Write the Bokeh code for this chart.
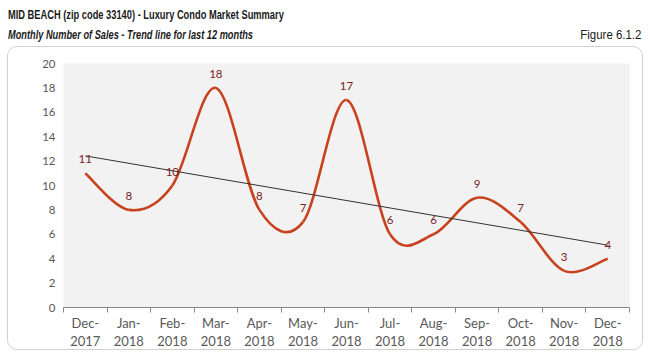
import numpy as np
from bokeh.plotting import figure
from bokeh.layouts import column
from bokeh.models import (ColumnDataSource, LabelSet, FixedTicker, Range1d, Div)
from bokeh.core.properties import value
from bokeh.embed import file_html
from bokeh.resources import INLINE

# ---- data ----
months = ["Dec-\n2017", "Jan-\n2018", "Feb-\n2018", "Mar-\n2018", "Apr-\n2018",
          "May-\n2018", "Jun-\n2018", "Jul-\n2018", "Aug-\n2018", "Sep-\n2018",
          "Oct-\n2018", "Nov-\n2018", "Dec-\n2018"]
sales = [11, 8, 10, 18, 8, 7, 17, 6, 6, 9, 7, 3, 4]
y_ticks = [0, 2, 4, 6, 8, 10, 12, 14, 16, 18, 20]

title = "MID BEACH (zip code 33140) - Luxury Condo Market Summary"
subtitle = "Monthly Number of Sales - Trend line for last 12 months"
fig_label = "Figure 6.1.2"

# ---- heading ----
base = ("position:absolute;white-space:nowrap;font-family:'Liberation Sans',Arial,sans-serif;"
        "color:#1a1a1a;font-size:13px;line-height:14px;")
head = Div(
    text=(
        '<div style="position:relative;width:650px;height:46px;">'
        f'<span style="{base}left:8px;top:8px;font-weight:bold;'
        f'transform:scaleX(0.715);transform-origin:0 50%;">{title}</span>'
        f'<span style="{base}left:8px;top:28px;font-weight:bold;font-style:italic;'
        f'transform:scaleX(0.71);transform-origin:0 50%;">{subtitle}</span>'
        f'<span style="{base}right:9px;top:28px;'
        f'transform:scaleX(0.88);transform-origin:100% 50%;">{fig_label}</span>'
        '</div>'
    ),
    width=650, height=46, margin=(0, 0, 0, 0))

# ---- chart ----
W, H = 634, 302
xs = np.arange(len(sales), dtype=float)
ys = np.array(sales, dtype=float)

p = figure(width=W, height=H, output_backend="svg", toolbar_location=None,
           x_range=Range1d(-0.5, len(sales) - 0.5), y_range=Range1d(0, 20),
           min_border_left=55, min_border_right=15, min_border_top=16,
           min_border_bottom=44, background_fill_color="#f2f2f2",
           border_fill_color="white", outline_line_color=None,
           margin=(0, 0, 0, 7),
           styles={"border": "1px solid #d0d0d0", "border-radius": "10px",
                   "box-sizing": "content-box", "overflow": "hidden"})
p.xgrid.visible = False
p.ygrid.visible = False

# smoothed line (cubic bezier segments, catmull-rom style control points)
n = len(sales)
x0, y0, x1, y1, cx0, cy0, cx1, cy1 = ([] for _ in range(8))
for i in range(n - 1):
    ip = max(i - 1, 0)
    inn = min(i + 2, n - 1)
    x0.append(xs[i]); y0.append(ys[i]); x1.append(xs[i + 1]); y1.append(ys[i + 1])
    cx0.append(xs[i] + (xs[i + 1] - xs[ip]) / 6.0)
    cy0.append(ys[i] + (ys[i + 1] - ys[ip]) / 6.0)
    cx1.append(xs[i + 1] - (xs[inn] - xs[i]) / 6.0)
    cy1.append(ys[i + 1] - (ys[inn] - ys[i]) / 6.0)
p.bezier(x0=x0, y0=y0, x1=x1, y1=y1, cx0=cx0, cy0=cy0, cx1=cx1, cy1=cy1,
         line_color="#c8431d", line_width=2.6)

# linear trend line
slope, intercept = np.polyfit(xs, ys, 1)
p.line([xs[0], xs[-1]], [intercept + slope * xs[0], intercept + slope * xs[-1]],
       line_color="#333333", line_width=1)

# data labels
src = ColumnDataSource(dict(x=xs, y=ys, t=[str(v) for v in sales]))
p.add_layout(LabelSet(x="x", y="y", text="t", source=src, y_offset=14,
                      text_align="center", text_baseline="middle",
                      text_font=value("Lato"), text_font_size="11.5px",
                      text_color="#7a2323"))

# axes
p.xaxis.ticker = FixedTicker(ticks=list(xs),
                             minor_ticks=list(np.arange(-0.5, n, 1.0)))
p.xaxis.major_label_overrides = {i: m for i, m in enumerate(months)}
p.xaxis.major_tick_line_color = None
p.xaxis.major_tick_out = 0
p.xaxis.major_tick_in = 0
p.xaxis.minor_tick_out = 5
p.xaxis.minor_tick_in = 0
p.xaxis.minor_tick_line_color = "#868686"
p.xaxis.axis_line_color = "#868686"
p.xaxis.major_label_standoff = 2
p.xaxis.major_label_text_font = "Lato"
p.xaxis.major_label_text_font_size = "13px"
p.xaxis.major_label_text_line_height = 1.15
p.xaxis.major_label_text_color = "#595959"

p.yaxis.ticker = FixedTicker(ticks=y_ticks)
p.yaxis.axis_line_color = None
p.yaxis.major_tick_line_color = None
p.yaxis.major_tick_out = 0
p.yaxis.major_tick_in = 0
p.yaxis.minor_tick_line_color = None
p.yaxis.major_label_standoff = 8
p.yaxis.major_label_text_font = "Lato"
p.yaxis.major_label_text_font_size = "11.5px"
p.yaxis.major_label_text_color = "#595959"

layout = column(head, p, spacing=0, margin=(0, 0, 0, 0))
open("out.html", "w").write(file_html(layout, INLINE))
